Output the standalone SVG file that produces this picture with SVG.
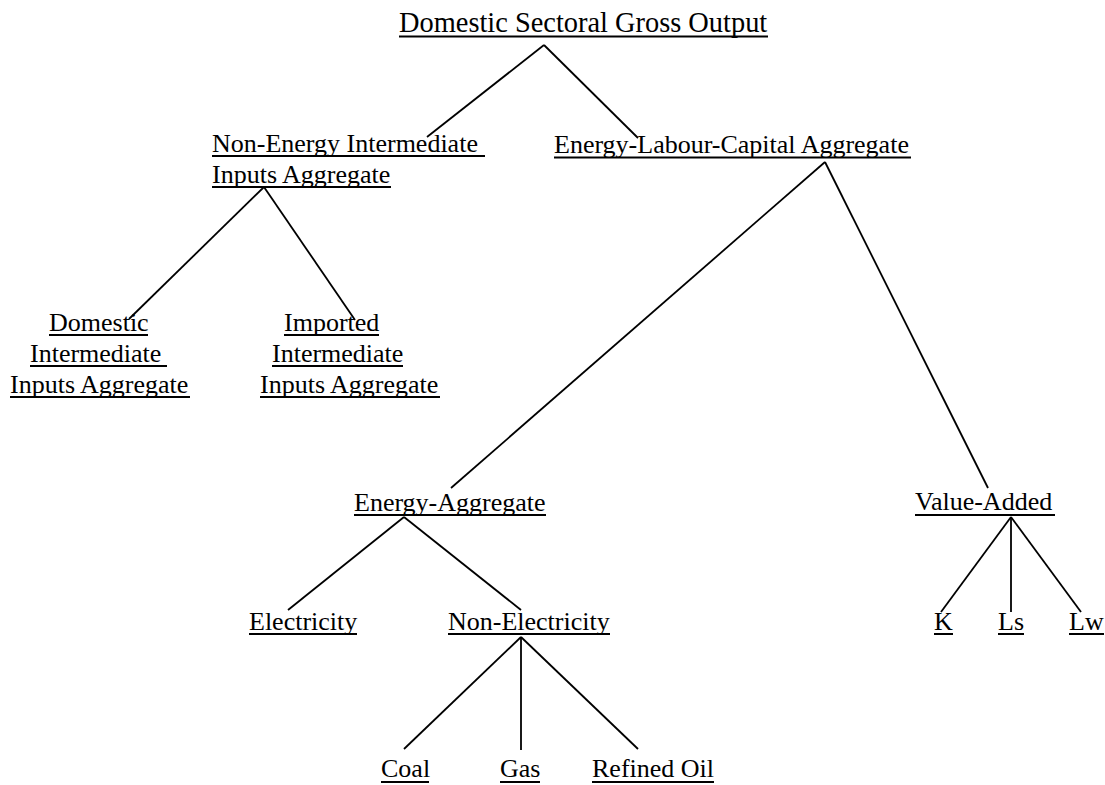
<svg xmlns="http://www.w3.org/2000/svg" width="1105" height="785" viewBox="0 0 1105 785">
<style>
text{font-family:"Liberation Serif","Times New Roman",serif;font-size:26px;fill:#000}
.t{font-size:28.4px}
.u{stroke:#000;stroke-width:2;fill:none}
.c{stroke:#000;stroke-width:1.8;fill:none;stroke-linecap:butt}
</style>
<rect width="1105" height="785" fill="#fff"/>
<g id="connectors">
<line class="c" x1="544" y1="45" x2="427" y2="137"/>
<line class="c" x1="544" y1="45" x2="638" y2="138"/>
<line class="c" x1="264" y1="187" x2="129" y2="319"/>
<line class="c" x1="264" y1="187" x2="355" y2="320"/>
<line class="c" x1="825" y1="162" x2="451" y2="488"/>
<line class="c" x1="825" y1="162" x2="988" y2="488"/>
<line class="c" x1="404" y1="517" x2="288" y2="610"/>
<line class="c" x1="404" y1="517" x2="521" y2="610"/>
<line class="c" x1="1011" y1="517" x2="941" y2="612"/>
<line class="c" x1="1011" y1="517" x2="1011" y2="612"/>
<line class="c" x1="1011" y1="517" x2="1081" y2="612"/>
<line class="c" x1="521" y1="637" x2="404" y2="749"/>
<line class="c" x1="521" y1="637" x2="521" y2="750"/>
<line class="c" x1="521" y1="637" x2="638" y2="749"/>
</g>
<g id="gross-output">
<text class="t" x="399" y="32">Domestic Sectoral Gross Output</text>
<line class="u" x1="399" y1="36.5" x2="768" y2="36.5"/>
</g>
<g id="non-energy">
<text x="212" y="152">Non-Energy Intermediate </text>
<line class="u" x1="212" y1="156" x2="485" y2="156"/>
<text x="212" y="183">Inputs Aggregate</text>
<line class="u" x1="212" y1="187" x2="391" y2="187"/>
</g>
<g id="elc">
<text x="554" y="153">Energy-Labour-Capital Aggregate</text>
<line class="u" x1="554" y1="157.5" x2="911" y2="157.5"/>
</g>
<g id="domestic">
<text x="49" y="331">Domestic</text>
<line class="u" x1="49" y1="335" x2="148" y2="335"/>
<text x="30" y="362">Intermediate </text>
<line class="u" x1="30" y1="366" x2="167" y2="366"/>
<text x="10" y="393">Inputs Aggregate</text>
<line class="u" x1="10" y1="397" x2="190" y2="397"/>
</g>
<g id="imported">
<text x="284" y="331">Imported</text>
<line class="u" x1="284" y1="335" x2="379" y2="335"/>
<text x="272" y="362">Intermediate</text>
<line class="u" x1="272" y1="366" x2="403" y2="366"/>
<text x="260" y="393">Inputs Aggregate</text>
<line class="u" x1="260" y1="397" x2="440" y2="397"/>
</g>
<g id="energy-aggregate">
<text x="354" y="511">Energy-Aggregate</text>
<line class="u" x1="354" y1="515" x2="546" y2="515"/>
</g>
<g id="value-added">
<text x="915" y="510">Value-Added</text>
<line class="u" x1="915" y1="515" x2="1055" y2="515"/>
</g>
<g id="electricity">
<text x="249" y="630">Electricity</text>
<line class="u" x1="249" y1="634" x2="357" y2="634"/>
</g>
<g id="non-electricity">
<text x="448" y="630">Non-Electricity</text>
<line class="u" x1="448" y1="634" x2="610" y2="634"/>
</g>
<g id="k">
<text x="934" y="630">K</text>
<line class="u" x1="934" y1="634" x2="953" y2="634"/>
</g>
<g id="ls">
<text x="998" y="630">Ls</text>
<line class="u" x1="998" y1="634" x2="1024" y2="634"/>
</g>
<g id="lw">
<text x="1069" y="630">Lw</text>
<line class="u" x1="1069" y1="634" x2="1104" y2="634"/>
</g>
<g id="coal">
<text x="381" y="777">Coal</text>
<line class="u" x1="381" y1="782" x2="429" y2="782"/>
</g>
<g id="gas">
<text x="500" y="777">Gas</text>
<line class="u" x1="500" y1="782" x2="540" y2="782"/>
</g>
<g id="refined-oil">
<text x="592" y="777">Refined Oil</text>
<line class="u" x1="592" y1="782" x2="714" y2="782"/>
</g>
</svg>
